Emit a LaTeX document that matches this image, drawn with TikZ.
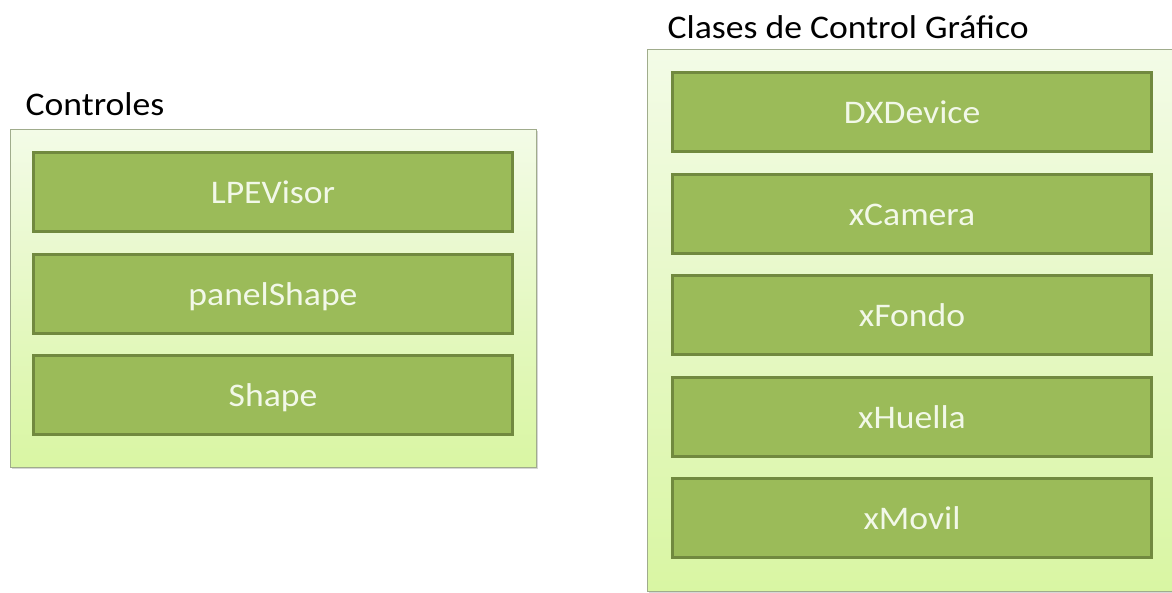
\documentclass[tikz,border=0pt]{standalone}
\usepackage{fontspec}
\setmainfont{Carlito}[FakeStretch=1.08]
\definecolor{boxfill}{RGB}{155,187,89}
\definecolor{boxline}{RGB}{113,137,63}
\definecolor{boxtext}{RGB}{242,248,232}
\definecolor{paneltop}{RGB}{243,251,231}
\definecolor{panelbot}{RGB}{217,246,163}
\definecolor{panelline}{RGB}{160,172,140}
\tikzset{
  panel/.style={draw=panelline, line width=1pt, top color=paneltop, bottom color=panelbot},
  panelshadow/.style={fill=black!35, opacity=0.45},
  classbox/.style={draw=boxline, line width=3pt, fill=boxfill, text=boxtext,
    minimum width=479pt, minimum height=79pt, inner sep=0pt,
    font=\fontsize{33}{36}\selectfont, text height=26pt, text depth=3pt},
  caption/.style={anchor=base west, inner sep=0pt, font=\fontsize{33}{36}\selectfont, text=black}
}
\begin{document}
\begin{tikzpicture}[x=1pt, y=-1pt]
  \useasboundingbox (0,0) rectangle (1172,592);
  \fill[white] (0,0) rectangle (1172,592);

  % Left group: controls
  \fill[panelshadow] (12,131) rectangle (538,469);
  \draw[panel] (10,129) rectangle (536,467);
  \node[caption] (ctitle) at (25.5,115) {Controles};
  \node[classbox] (lpe)   at (273,192)   {LPEVisor};
  \node[classbox] (pshape) at (273,293.5) {panelShape};
  \node[classbox] (shape) at (273,395)   {Shape};

  % Right group: graphics control classes
  \fill[panelshadow] (649,51) rectangle (1177,593);
  \draw[panel] (647,49) rectangle (1175,591);
  \node[caption] (gtitle) at (667.5,38) {Clases de Control Gráfico};
  \node[classbox] (dx)   at (912,112)   {DXDevice};
  \node[classbox] (cam)  at (912,213.6) {xCamera};
  \node[classbox] (fon)  at (912,315.2) {xFondo};
  \node[classbox] (hue)  at (912,416.8) {xHuella};
  \node[classbox] (mov)  at (912,518.4) {xMovil};
\end{tikzpicture}
\end{document}
